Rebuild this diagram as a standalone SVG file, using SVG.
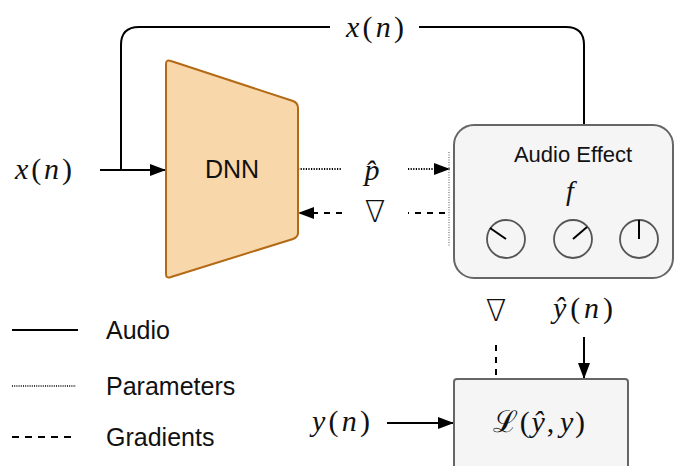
<svg xmlns="http://www.w3.org/2000/svg" width="675" height="466" viewBox="0 0 675 466">
  <defs>
    <marker id="arrow" viewBox="0 0 16 12" refX="16" refY="6" markerWidth="16" markerHeight="12" markerUnits="userSpaceOnUse" orient="auto">
      <path d="M0,0 L16,6 L0,12 Z" fill="#000"/>
    </marker>
    <style>
      .sans { font-family: "Liberation Sans", Arial, sans-serif; fill: #111; }
      .math { font-family: "Liberation Serif", "DejaVu Serif", serif; fill: #111; }
      .nabla { font-family: "DejaVu Sans", sans-serif; font-weight: 200; fill: #111; }
      .it { font-style: italic; }
      .audio { fill: none; stroke: #000; stroke-width: 2; }
      .param { fill: none; stroke: #000; stroke-width: 2; stroke-dasharray: 1.2 1.4; }
      .grad { fill: none; stroke: #000; stroke-width: 2; stroke-dasharray: 6 6; }
      .box { fill: #f5f5f5; stroke: #666; stroke-width: 2; }
      .knob { fill: none; stroke: #555; stroke-width: 1.8; }
      .needle { stroke: #000; stroke-width: 2; }
    </style>
  </defs>
  <rect width="675" height="466" fill="#fff"/>

  <!-- connectors -->
  <g id="connectors">
    <!-- audio input into DNN, with a branch looping over to the effect -->
    <line class="audio" x1="100" y1="170" x2="166" y2="170" marker-end="url(#arrow)"/>
    <path class="audio" d="M121,170 V45 Q121,27 139,27 H330"/>
    <path class="audio" d="M419,27 H566 Q584,27 584,45 V125"/>
    <!-- parameters out of DNN -->
    <line class="param" x1="298" y1="169" x2="341" y2="169"/>
    <line class="param" x1="408" y1="169" x2="450" y2="169" marker-end="url(#arrow)"/>
    <line x1="449" y1="152" x2="449" y2="246" stroke="#555" stroke-width="1" stroke-dasharray="1 1.5"/>
    <!-- gradients back into DNN -->
    <line class="grad" x1="445" y1="213" x2="408" y2="213"/>
    <line class="grad" x1="342" y1="213" x2="298" y2="213" marker-end="url(#arrow)"/>
    <!-- loss inputs -->
    <line class="grad" x1="496" y1="345" x2="496" y2="379"/>
    <line class="audio" x1="584" y1="337" x2="584" y2="379" marker-end="url(#arrow)"/>
    <line class="audio" x1="387" y1="423" x2="454" y2="423" marker-end="url(#arrow)"/>
  </g>

  <!-- edge labels -->
  <g id="labels">
    <text class="math" x="15" y="179" font-size="30" textLength="57" lengthAdjust="spacing"><tspan class="it">x</tspan>(<tspan class="it">n</tspan>)</text>
    <text class="math" x="346" y="37" font-size="30" textLength="58" lengthAdjust="spacing"><tspan class="it">x</tspan>(<tspan class="it">n</tspan>)</text>
    <text class="math it" x="372" y="180" font-size="30" text-anchor="middle">p̂</text>
    <text class="nabla" x="375" y="222" font-size="30" text-anchor="middle">∇</text>
    <text class="nabla" x="496" y="321" font-size="30" text-anchor="middle">∇</text>
    <text class="math" x="553" y="318" font-size="30" textLength="60" lengthAdjust="spacing"><tspan class="it">ŷ</tspan>(<tspan class="it">n</tspan>)</text>
    <text class="math" x="312" y="431" font-size="30" textLength="58" lengthAdjust="spacing"><tspan class="it">y</tspan>(<tspan class="it">n</tspan>)</text>
  </g>

  <!-- DNN -->
  <g id="dnn">
    <path d="M166,64 Q166,59 171,61 L293,101 Q298,103 298,108 L298,233 Q298,237 293,239 L171,277 Q166,279 166,274 Z" fill="#f8d7aa" stroke="#b46a14" stroke-width="2"/>
    <text class="sans" x="232" y="178" font-size="25" text-anchor="middle">DNN</text>
  </g>

  <!-- Audio effect -->
  <g id="audio-effect">
    <rect class="box" x="454" y="125" width="219" height="153" rx="20"/>
    <text class="sans" x="573" y="162" font-size="22" text-anchor="middle">Audio Effect</text>
    <text class="math it" x="570" y="200" font-size="28" text-anchor="middle">f</text>
    <g id="knob-1">
      <circle class="knob" cx="506" cy="239" r="19"/>
      <line class="needle" x1="506" y1="239" x2="490" y2="228"/>
    </g>
    <g id="knob-2">
      <circle class="knob" cx="573" cy="239" r="19"/>
      <line class="needle" x1="573" y1="239" x2="587" y2="227"/>
    </g>
    <g id="knob-3">
      <circle class="knob" cx="639" cy="239" r="19"/>
      <line class="needle" x1="639" y1="239" x2="639" y2="220"/>
    </g>
  </g>

  <!-- Loss -->
  <g id="loss">
    <rect class="box" x="454" y="379" width="174" height="100" rx="3"/>
    <text class="math" x="493" y="432" font-size="30" textLength="92" lengthAdjust="spacing">ℒ(<tspan class="it">ŷ</tspan>,<tspan class="it" dx="4">y</tspan>)</text>
  </g>

  <!-- legend -->
  <g id="legend">
    <line class="audio" x1="12" y1="330" x2="78" y2="330"/>
    <text class="sans" x="106" y="339" font-size="25">Audio</text>
    <line x1="12" y1="386" x2="76" y2="386" stroke="#000" stroke-width="1.5" stroke-dasharray="1 1.2"/>
    <text class="sans" x="106" y="395" font-size="25">Parameters</text>
    <line x1="12" y1="437" x2="72" y2="437" stroke="#000" stroke-width="2" stroke-dasharray="7 6"/>
    <text class="sans" x="106" y="446" font-size="25">Gradients</text>
  </g>
</svg>
